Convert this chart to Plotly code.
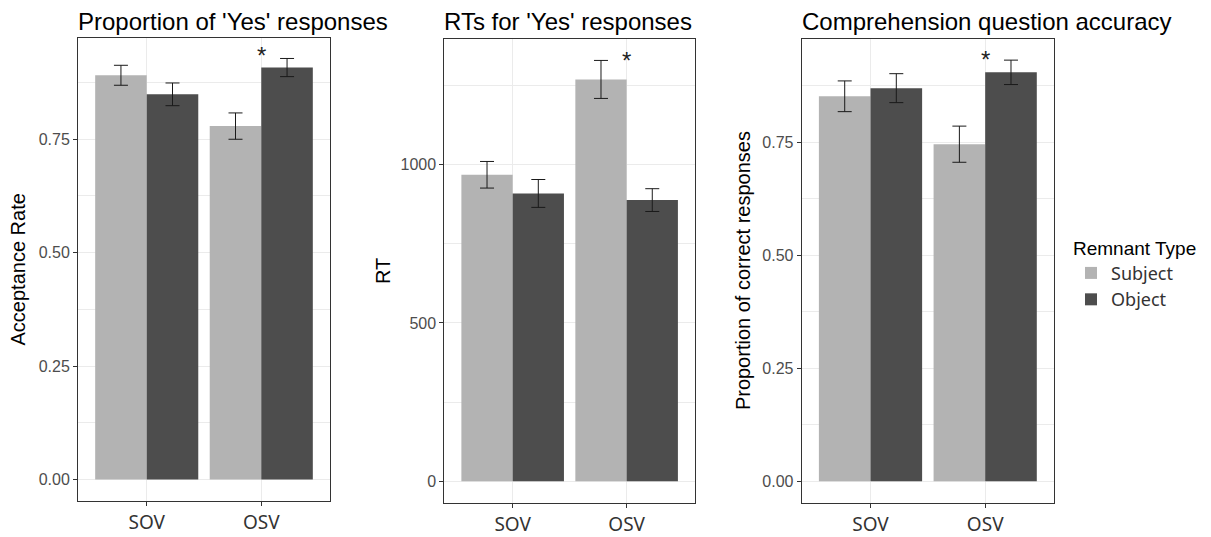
import plotly.graph_objects as go
from plotly.subplots import make_subplots

# ---- data ----
categories = ["SOV", "OSV"]
series_names = ["Subject", "Object"]
series_colors = ["#B3B3B3", "#4D4D4D"]

titles = ["Proportion of 'Yes' responses", "RTs for 'Yes' responses", "Comprehension question accuracy"]
y_titles = ["Acceptance Rate", "RT", "Proportion of correct responses"]

# panel 1: acceptance rate
acc_subject = [0.891, 0.779]
acc_object = [0.849, 0.908]
acc_subject_err = [0.022, 0.029]
acc_object_err = [0.025, 0.020]

# panel 2: RT
rt_subject = [968, 1269]
rt_object = [909, 888]
rt_subject_err = [42, 60]
rt_object_err = [44, 36]

# panel 3: comprehension accuracy
comp_subject = [0.852, 0.746]
comp_object = [0.870, 0.905]
comp_subject_err = [0.034, 0.040]
comp_object_err = [0.032, 0.027]

star_category = "OSV"
star_y = [0.934, 1328, 0.933]

y_ranges = [[-0.048, 0.974], [-69.5, 1397], [-0.0487, 0.979]]
y_dticks = [0.25, 500, 0.25]
y_formats = [".2f", "d", ".2f"]

panels = [
    (acc_subject, acc_object, acc_subject_err, acc_object_err),
    (rt_subject, rt_object, rt_subject_err, rt_object_err),
    (comp_subject, comp_object, comp_subject_err, comp_object_err),
]

# ---- layout geometry (px, in the 1211x537 window; page body has an 8px margin) ----
OFF = 8
W, H = 1211 - OFF, 537 - OFF
x_px = [(78, 330), (444.3, 695), (801.7, 1054)]
y_px = [(38, 508), (39.3, 510), (39.3, 510)]
ytitle_x_px = [18, 383, 743]


def px_x(v):
    return (v - OFF) / W


def px_y(v):
    return 1 - (v - OFF) / H


fig = make_subplots(rows=1, cols=3)

for i, (subj, obj, serr, oerr) in enumerate(panels):
    vals = [subj, obj]
    errs = [serr, oerr]
    for s in range(2):
        fig.add_trace(
            go.Bar(
                x=categories,
                y=vals[s],
                name=series_names[s],
                marker=dict(color=series_colors[s], line=dict(width=0)),
                error_y=dict(type="data", array=errs[s], visible=True,
                             color="#1A1A1A", thickness=1, width=7),
                showlegend=(i == 0),
                legendgroup=series_names[s],
            ),
            row=1, col=i + 1,
        )

fig.update_layout(
    width=W, height=H,
    margin=dict(l=0, r=0, t=0, b=0),
    paper_bgcolor="white",
    plot_bgcolor="white",
    barmode="group",
    bargap=0.1,
    bargroupgap=0,
    font=dict(family="Liberation Sans, Arial, sans-serif", color="black"),
    legend=dict(
        x=px_x(1071), y=px_y(233), xanchor="left", yanchor="top",
        title=dict(text="Remnant Type", font=dict(family="Liberation Sans, Arial", size=19, color="black")),
        font=dict(family="Noto Sans, Open Sans, sans-serif", size=18, color="#333333"),
        bgcolor="rgba(0,0,0,0)",
        tracegroupgap=0,
    ),
)

annotations = []
for i in range(3):
    xa = "xaxis" if i == 0 else f"xaxis{i + 1}"
    ya = "yaxis" if i == 0 else f"yaxis{i + 1}"
    x0, x1 = x_px[i]
    yt, yb = y_px[i]
    fig.layout[xa].update(
        domain=[px_x(x0), px_x(x1)],
        type="category",
        categoryorder="array",
        categoryarray=categories,
        range=[-0.6, 1.6],
        showgrid=True, gridcolor="#EBEBEB", gridwidth=1,
        ticks="outside", ticklen=4, tickcolor="#333333",
        showline=True, mirror=True, linecolor="#333333", linewidth=1,
        tickfont=dict(family="Noto Sans, Open Sans, sans-serif", size=19, color="#333333"),
        zeroline=False,
    )
    fig.layout[ya].update(
        domain=[px_y(yb), px_y(yt)],
        range=y_ranges[i],
        dtick=y_dticks[i], tick0=0,
        tickformat=y_formats[i],
        showgrid=True, gridcolor="#EBEBEB", gridwidth=1,
        minor=dict(dtick=y_dticks[i] / 2, tick0=0, showgrid=True, gridcolor="#EBEBEB", gridwidth=0.6, ticks=""),
        ticks="outside", ticklen=4, tickcolor="#333333",
        showline=True, mirror=True, linecolor="#333333", linewidth=1,
        tickfont=dict(family="Liberation Sans, Arial", size=16, color="#4D4D4D"),
        zeroline=False,
    )
    # panel title (anchored to the top edge so it is not clipped)
    annotations.append(dict(
        text=titles[i], xref="paper", yref="paper",
        x=px_x(x0), y=1, xanchor="left", yanchor="top",
        borderpad=0, borderwidth=0,
        showarrow=False, font=dict(family="Liberation Sans, Arial", size=24, color="black"),
    ))
    # y-axis title
    annotations.append(dict(
        text=y_titles[i], xref="paper", yref="paper",
        x=px_x(ytitle_x_px[i]), y=px_y((yt + yb) / 2), xanchor="center", yanchor="middle",
        textangle=-90, showarrow=False,
        font=dict(family="Liberation Sans, Arial", size=20, color="black"),
    ))
    # significance star
    annotations.append(dict(
        text="*", xref="x" if i == 0 else f"x{i + 1}", yref="y" if i == 0 else f"y{i + 1}",
        x=star_category, y=star_y[i], xanchor="center", yanchor="middle",
        showarrow=False, font=dict(family="Liberation Sans, Arial", size=24, color="#222222"),
    ))

fig.update_layout(annotations=annotations)

fig.write_html("out.html")
